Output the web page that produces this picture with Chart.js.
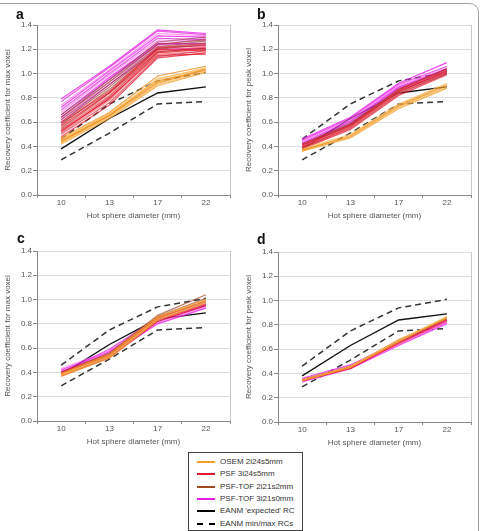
<!DOCTYPE html>
<html lang="en">
<head>
    <meta charset="UTF-8">
    <title>Recovery coefficients</title>
    <script src="https://cdn.jsdelivr.net/npm/chart.js"></script>
    <style>
        body { margin: 0; background: #fff; font-family: "Liberation Sans", Arial, sans-serif; }
        #page { position: relative; width: 482px; height: 531px; overflow: hidden; }
        canvas { position: absolute; }
        .frame { position: absolute; left: -12px; top: 3px; width: 489px; height: 600px; border: 1px solid #a0a0a0; border-radius: 9px; }
        .letter { position: absolute; font-weight: bold; font-size: 14px; color: #111; }
        #legend { position: absolute; left: 188px; top: 452px; width: 113px; height: 77px; border: 1px solid #444; background: #fff; }
        .row { position: absolute; left: 0; height: 12px; font-size: 8px; color: #333; line-height: 12px; }
        .row span.sw { position: absolute; left: 8px; top: 5px; width: 18px; border-top: 2px solid #000; }
        .row span.txt { position: absolute; left: 31px; top: 0; white-space: nowrap; }
    </style>
</head>
<body>
<div id="page">
    <div class="frame"></div>
    <canvas id="chartA" width="241" height="225" style="left:0;top:0"></canvas>
    <canvas id="chartB" width="241" height="225" style="left:241px;top:0"></canvas>
    <canvas id="chartC" width="241" height="225" style="left:0;top:226px"></canvas>
    <canvas id="chartD" width="241" height="225" style="left:241px;top:227px"></canvas>
    <div class="letter" style="left:16px;top:6px">a</div>
    <div class="letter" style="left:257px;top:6px">b</div>
    <div class="letter" style="left:17px;top:230px">c</div>
    <div class="letter" style="left:257px;top:231px">d</div>
    <div id="legend"></div>
</div>

<script>
    // sphere sizes (categories)
    const diameters = ['10', '13', '17', '22'];
    const yTicks = [0, 0.2, 0.4, 0.6, 0.8, 1.0, 1.2, 1.4];

    // EANM reference curves
    const eanmExpected = [0.38, 0.63, 0.84, 0.89];
    const eanmMin = [0.29, 0.51, 0.75, 0.77];
    const eanmMax = [0.46, 0.75, 0.94, 1.01];

    // panel a - max voxel, one row per scan
    const osemA = [
        [0.42, 0.63, 0.90, 1.01], [0.43, 0.64, 0.91, 1.02], [0.44, 0.65, 0.92, 1.03],
        [0.45, 0.66, 0.93, 1.04], [0.46, 0.67, 0.95, 1.05], [0.47, 0.68, 0.98, 1.06],
        [0.44, 0.66, 0.94, 1.03], [0.43, 0.65, 0.96, 1.04]
    ];
    const psfA = [
        [0.48, 0.74, 1.13, 1.17], [0.50, 0.76, 1.14, 1.19], [0.51, 0.78, 1.16, 1.18],
        [0.53, 0.79, 1.17, 1.20], [0.54, 0.81, 1.18, 1.21], [0.56, 0.82, 1.19, 1.22],
        [0.57, 0.84, 1.20, 1.19], [0.59, 0.85, 1.21, 1.23], [0.60, 0.86, 1.22, 1.24],
        [0.52, 0.80, 1.15, 1.16]
    ];
    const tof2A = [
        [0.55, 0.84, 1.18, 1.21], [0.58, 0.87, 1.20, 1.24], [0.60, 0.89, 1.21, 1.25],
        [0.62, 0.91, 1.22, 1.27], [0.64, 0.93, 1.24, 1.28], [0.66, 0.95, 1.26, 1.30]
    ];
    const tof3A = [
        [0.60, 0.91, 1.20, 1.21], [0.62, 0.93, 1.22, 1.23], [0.64, 0.95, 1.24, 1.25],
        [0.66, 0.97, 1.25, 1.24], [0.68, 0.99, 1.27, 1.27], [0.70, 1.00, 1.29, 1.28],
        [0.72, 1.02, 1.31, 1.30], [0.74, 1.03, 1.33, 1.31], [0.77, 1.05, 1.35, 1.32],
        [0.79, 1.06, 1.36, 1.33], [0.63, 0.96, 1.23, 1.29]
    ];

    // panel b - peak voxel
    const osemB = [
        [0.36, 0.47, 0.71, 0.88], [0.36, 0.48, 0.72, 0.89], [0.37, 0.48, 0.73, 0.90],
        [0.37, 0.49, 0.74, 0.91], [0.38, 0.50, 0.75, 0.92]
    ];
    const psfB = [
        [0.38, 0.54, 0.82, 0.99], [0.39, 0.55, 0.83, 1.00], [0.40, 0.56, 0.84, 1.01],
        [0.41, 0.57, 0.85, 1.02], [0.42, 0.58, 0.87, 1.04], [0.39, 0.56, 0.86, 1.03]
    ];
    const tof2B = [
        [0.39, 0.56, 0.84, 1.00], [0.40, 0.57, 0.85, 1.01], [0.41, 0.58, 0.86, 1.03],
        [0.42, 0.59, 0.87, 1.04]
    ];
    const tof3B = [
        [0.40, 0.58, 0.86, 1.01], [0.41, 0.59, 0.87, 1.02], [0.42, 0.60, 0.88, 1.03],
        [0.43, 0.61, 0.89, 1.04], [0.44, 0.62, 0.90, 1.05], [0.45, 0.63, 0.91, 1.06],
        [0.46, 0.64, 0.92, 1.09]
    ];

    // panel c - max voxel, harmonised
    const osemC = [
        [0.37, 0.52, 0.83, 0.97], [0.38, 0.53, 0.84, 0.98], [0.38, 0.54, 0.85, 0.99],
        [0.39, 0.55, 0.86, 1.00]
    ];
    const psfC = [
        [0.37, 0.52, 0.82, 0.95], [0.38, 0.53, 0.83, 0.96], [0.39, 0.54, 0.84, 0.97],
        [0.40, 0.55, 0.85, 0.98]
    ];
    const tof2C = [
        [0.38, 0.53, 0.84, 0.99], [0.39, 0.55, 0.86, 1.01], [0.40, 0.56, 0.87, 1.04]
    ];
    const tof3C = [
        [0.39, 0.54, 0.80, 0.93], [0.40, 0.55, 0.81, 0.94], [0.41, 0.56, 0.82, 0.95],
        [0.42, 0.57, 0.83, 0.96], [0.43, 0.58, 0.84, 0.97], [0.40, 0.59, 0.85, 0.98]
    ];

    // panel d - peak voxel, harmonised
    const osemD = [[0.34, 0.45, 0.66, 0.86], [0.35, 0.46, 0.67, 0.87], [0.34, 0.45, 0.68, 0.85]];
    const psfD = [[0.34, 0.44, 0.65, 0.84], [0.35, 0.45, 0.66, 0.85], [0.34, 0.46, 0.64, 0.83]];
    const tof2D = [[0.34, 0.45, 0.66, 0.85], [0.35, 0.46, 0.67, 0.86]];
    const tof3D = [
        [0.33, 0.44, 0.63, 0.81], [0.34, 0.45, 0.64, 0.82], [0.35, 0.46, 0.65, 0.83],
        [0.36, 0.47, 0.66, 0.84], [0.34, 0.45, 0.65, 0.82]
    ];

    // line shades per reconstruction
    const osemShades = ['rgba(245,160,45,0.8)', 'rgba(250,190,95,0.75)', 'rgba(235,140,30,0.8)'];
    const psfShades = ['rgba(230,20,40,0.75)', 'rgba(205,30,55,0.65)', 'rgba(245,80,90,0.65)'];
    const tof2Shades = ['rgba(160,70,40,0.7)', 'rgba(140,55,50,0.6)'];
    const tof3Shades = ['rgba(240,30,240,0.8)', 'rgba(255,110,235,0.7)', 'rgba(215,30,205,0.7)'];

    const legendItems = [
        { label: 'OSEM 2i24s5mm', color: '#f5a02a', dash: false },
        { label: 'PSF 3i24s5mm', color: '#e6182a', dash: false },
        { label: 'PSF-TOF 2i21s2mm', color: '#a0481e', dash: false },
        { label: 'PSF-TOF 3i21s0mm', color: '#e21ee2', dash: false },
        { label: "EANM 'expected' RC", color: '#000', dash: false },
        { label: 'EANM min/max RCs', color: '#000', dash: true }
    ];

    const tickFont = { family: 'Liberation Sans', size: 8 };

    // Function to turn a group of curves into datasets
    function groupDatasets(rows, shades) {
        return rows.map((row, i) => ({
            data: row,
            borderColor: shades[i % shades.length],
            borderWidth: 1.2,
            pointRadius: 0,
            tension: 0
        }));
    }

    function eanmDatasets() {
        return [
            { data: eanmMin, borderColor: '#333', borderWidth: 1.5, borderDash: [6, 4], pointRadius: 0 },
            { data: eanmMax, borderColor: '#333', borderWidth: 1.5, borderDash: [6, 4], pointRadius: 0 },
            { data: eanmExpected, borderColor: '#111', borderWidth: 1.4, pointRadius: 0 }
        ];
    }

    // draws the light right edge of the plot box
    const plotFrame = {
        id: 'plotFrame',
        afterDraw(chart) {
            const a = chart.chartArea;
            const ctx = chart.ctx;
            ctx.save();
            ctx.strokeStyle = '#c8c8c8';
            ctx.lineWidth = 1;
            ctx.beginPath();
            ctx.moveTo(a.right + 0.5, a.top);
            ctx.lineTo(a.right + 0.5, a.bottom);
            ctx.stroke();
            ctx.restore();
        }
    };

    // Function to plot one panel
    function plotPanel(canvasId, groups, yTitle) {
        let datasets = [];
        groups.forEach(g => { datasets = datasets.concat(groupDatasets(g.rows, g.shades)); });
        datasets = datasets.concat(eanmDatasets());

        const ctx = document.getElementById(canvasId).getContext('2d');
        new Chart(ctx, {
            type: 'line',
            data: { labels: diameters, datasets: datasets },
            plugins: [plotFrame],
            options: {
                responsive: false,
                animation: false,
                layout: { padding: { top: 25, right: 11, left: 0, bottom: 0 } },
                plugins: { legend: { display: false }, tooltip: { enabled: false } },
                scales: {
                    x: {
                        offset: true,
                        grid: { offset: true, drawOnChartArea: false, tickLength: 3, color: '#888' },
                        border: { color: '#888' },
                        ticks: { color: '#555', padding: 0, font: tickFont },
                        title: {
                            display: true, text: 'Hot sphere diameter (mm)', color: '#555',
                            padding: { top: 0, bottom: 4 }, font: tickFont
                        },
                        afterFit: scale => { scale.height = 30; }
                    },
                    y: {
                        min: 0, max: 1.4,
                        afterBuildTicks: scale => { scale.ticks = yTicks.map(v => ({ value: v })); },
                        grid: { color: '#dcdcdc', tickColor: '#888', tickLength: 4 },
                        border: { color: '#888' },
                        ticks: {
                            color: '#555', padding: 1, font: tickFont,
                            callback: v => Number(v).toFixed(1)
                        },
                        title: {
                            display: true, text: yTitle, color: '#555',
                            padding: { top: 3, bottom: 0 }, font: tickFont
                        },
                        afterFit: scale => { scale.width = 37; }
                    }
                }
            }
        });
    }

    // Function to build the legend box
    function buildLegend() {
        const box = document.getElementById('legend');
        legendItems.forEach((item, i) => {
            const row = document.createElement('div');
            row.className = 'row';
            row.style.top = (3 + i * 12.3) + 'px';
            const sw = document.createElement('span');
            sw.className = 'sw';
            sw.style.borderTop = '2px ' + (item.dash ? 'dashed ' : 'solid ') + item.color;
            const txt = document.createElement('span');
            txt.className = 'txt';
            txt.textContent = item.label;
            row.appendChild(sw);
            row.appendChild(txt);
            box.appendChild(row);
        });
    }

    plotPanel('chartA', [
        { rows: osemA, shades: osemShades }, { rows: psfA, shades: psfShades },
        { rows: tof2A, shades: tof2Shades }, { rows: tof3A, shades: tof3Shades }
    ], 'Recovery coefficient for max voxel');
    plotPanel('chartB', [
        { rows: osemB, shades: osemShades }, { rows: psfB, shades: psfShades },
        { rows: tof2B, shades: tof2Shades }, { rows: tof3B, shades: tof3Shades }
    ], 'Recovery coefficient for peak voxel');
    plotPanel('chartC', [
        { rows: osemC, shades: osemShades }, { rows: psfC, shades: psfShades },
        { rows: tof2C, shades: tof2Shades }, { rows: tof3C, shades: tof3Shades }
    ], 'Recovery coefficient for max voxel');
    plotPanel('chartD', [
        { rows: osemD, shades: osemShades }, { rows: psfD, shades: psfShades },
        { rows: tof2D, shades: tof2Shades }, { rows: tof3D, shades: tof3Shades }
    ], 'Recovery coefficient for peak voxel');
    buildLegend();
</script>
</body>
</html>
